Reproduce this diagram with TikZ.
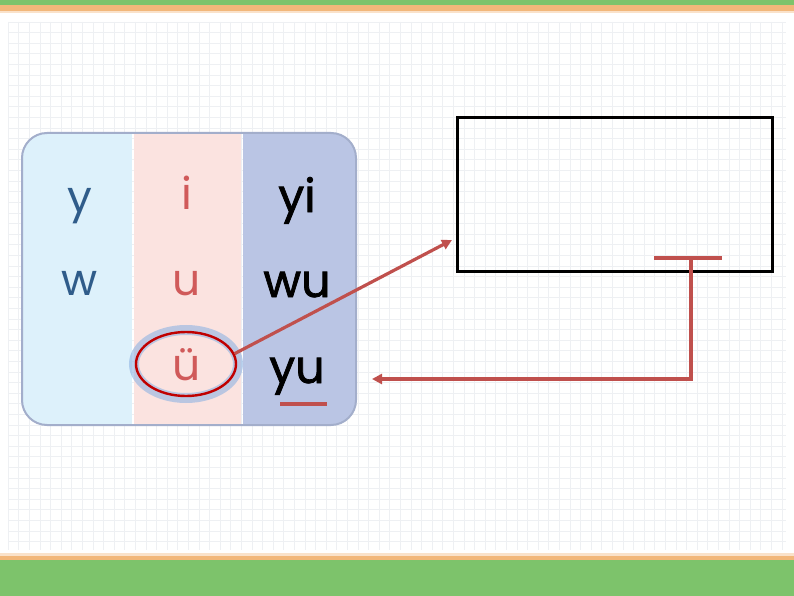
\documentclass[tikz,border=0pt]{standalone}
\usepackage{fontspec}
\setmainfont{Poppins}
\newfontfamily\medfont[FakeBold=1.6]{Poppins}
\usetikzlibrary{calc,positioning,arrows.meta,shapes.geometric}
\definecolor{bandgreen}{HTML}{7DC36B}
\definecolor{bandorange}{HTML}{F2B77A}
\definecolor{gridgray}{HTML}{EEF0F3}
\definecolor{colblue}{HTML}{DDF1FB}
\definecolor{colpink}{HTML}{FBE3E0}
\definecolor{collav}{HTML}{BAC5E4}
\definecolor{tabframe}{HTML}{A3AECB}
\definecolor{txtblue}{HTML}{2F5C8A}
\definecolor{txtred}{HTML}{D05A5A}
\definecolor{markred}{HTML}{C0504D}
\definecolor{ringred}{HTML}{C00000}
\definecolor{glowblue}{HTML}{8FB4E3}
\tikzset{
  thinletter/.style={anchor=base, font=\fontsize{44}{50}\selectfont},
  boldletter/.style={anchor=base, text=black, font=\medfont\fontsize{46}{50}\selectfont},
  markline/.style={line width=3.2pt, color=markred},
  marktip/.style={markline, -{Triangle[length=10pt,width=10pt]}}
}

\begin{document}
\begin{tikzpicture}[x=1pt, y=-1pt]
			%%%%% START %%%%%
			\useasboundingbox (0,0) rectangle (794,596);
			\fill[white] (0,0) rectangle (794,596);
			
			% grid paper
			\foreach \gx in {8,18.6,...,787} \draw[line width=0.6pt, color=gridgray] (\gx,22) -- (\gx,550);
			\foreach \gy in {22,32.6,...,551} \draw[line width=0.6pt, color=gridgray] (8,\gy) -- (786,\gy);
			
			% top and bottom bands
			\fill[bandgreen] (0,0) rectangle (794,5);
			\fill[bandorange] (0,5) rectangle (794,11);
			\fill[bandorange!40] (0,11) rectangle (794,13);
			\fill[bandorange!40] (0,553) rectangle (794,556);
			\fill[bandorange] (0,556) rectangle (794,560);
			\fill[bandgreen] (0,560) rectangle (794,596);
			
			% the table
			\begin{scope}
				\clip[rounded corners=25pt] (22,133) rectangle (356,425);
				\fill[colblue] (22,133) rectangle (132,425);
				\fill[colpink] (134,133) rectangle (241,425);
				\fill[collav] (243,133) rectangle (356,425);
			\end{scope}
			\draw[line width=2pt, color=tabframe, rounded corners=25pt] (22,133) rectangle (356,425);
			
			\node[thinletter, text=txtblue] (ny) at (80,212) {y};
			\node[thinletter, text=txtblue] (nw) at (80,295) {w};
			\node[thinletter, text=txtred] (ni) at (187,209) {i};
			\node[thinletter, text=txtred] (nu) at (187,295) {u};
			\node[thinletter, text=txtred] (numl) at (187,380) {ü};
			\node[boldletter] (nyi) at (297,212) {yi};
			\node[boldletter] (nwu) at (297,297) {wu};
			\node[boldletter] (nyu) at (297,383) {yu};
			
			% ring round the umlaut
			\node[ellipse, minimum width=104pt, minimum height=68pt, draw=glowblue, line width=10pt, opacity=0.6] at (186,364) {};
			\node[ellipse, minimum width=100pt, minimum height=64pt, draw=ringred, line width=2.4pt] (ring) at (186,364) {};
			\draw[markline] (280,404) -- (327,404);
			
			% empty answer box
			\node[draw=black, line width=3pt, minimum width=315pt, minimum height=153pt] (box) at (614.5,194.5) {};
			\coordinate (intip) at (452,240);
			\draw[marktip] (ring.12) -- (intip);
			
			\coordinate (barl) at (654,258);
			\coordinate (barr) at (722,258);
			\coordinate (barm) at (691,258);
			\coordinate (back) at (372,379);
			\draw[markline] (barl) -- (barr);
			\draw[marktip] (barm) |- (back);
			%%%%% END %%%%%
\end{tikzpicture}
\end{document}
